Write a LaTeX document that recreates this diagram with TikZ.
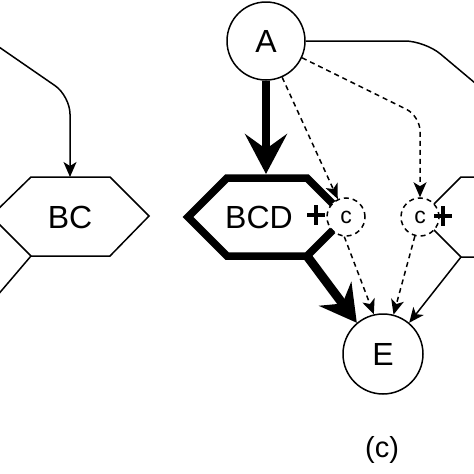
\documentclass[tikz,border=0pt]{standalone}
\usepackage{fontspec}
\setmainfont{Liberation Sans}
\usetikzlibrary{arrows.meta}
\begin{document}
\begin{tikzpicture}[x=1pt,y=-1pt,
  thinline/.style={line width=1.5pt},
  bigcirc/.style={circle, draw, line width=1.5pt, inner sep=0pt, font=\fontsize{32}{32}\selectfont},
  cnode/.style={circle, draw, dash pattern=on 5pt off 4pt, fill=white, line width=1.5pt, minimum size=38pt, inner sep=0pt, font=\fontsize{23}{23}\selectfont},
  lbl/.style={inner sep=0pt, font=\fontsize{32}{32}\selectfont},
  tiphead/.style={-{Stealth[length=15pt,width=13pt,inset=4pt]}},
  dashpat/.style={dash pattern=on 5pt off 4pt},
  plussign/.style={line width=4.5pt},
  thickhex/.style={line width=7.5pt, miter limit=10, line join=miter}
]
\useasboundingbox (0,0) rectangle (474,474);
\clip (0,0) rectangle (474,474);

% left hexagon BC (partial)
\coordinate (BCtop) at (70,177);
\coordinate (BCbl) at (31,256);
\draw[thinline] (-9,216) -- (31,177) -- (110,177) -- (149,216) -- (110,256) -- (BCbl) -- cycle;
\node[lbl] (BC) at (70,217) {BC};
\coordinate (Lstart) at (-30,27);
\coordinate (Lend) at (-15,310);
\draw[thinline, tiphead, rounded corners=18pt] (Lstart) -- (70,96) -- (BCtop);
\draw[thinline] (BCbl) -- (Lend);

% BCD hexagon
\coordinate (BCDtop) at (266,174);
\coordinate (BCDbr) at (307,256);
\draw[thickhex] (188,217) -- (227,178) -- (307,178) -- (346,217) -- (BCDbr) -- (227,256) -- cycle;
\node[lbl] (BCD) at (259,217) {BCD};

% right hexagon (partial)
\coordinate (RHbl) at (461,257);
\draw[thinline] (500,177) -- (461,177) -- (421,217) -- (RHbl) -- (500,257);

% nodes
\node[bigcirc, minimum size=78pt] (A) at (266,41) {A};
\node[bigcirc, minimum size=80pt] (E) at (383,354) {E};
\node[cnode] (C1) at (346,217) {c};
\node[cnode] (C2) at (420,217) {c};
\draw[plussign] (307,215) -- (325,215) (316,205) -- (316,225);
\draw[plussign] (434,216) -- (452,216) (443,206) -- (443,226);

% connectors
\draw[line width=8pt, -{Stealth[length=40pt,width=42pt,inset=15pt]}] (A) -- (BCDtop);
\draw[line width=9pt, -{Stealth[length=36pt,width=40pt,inset=12pt]}] (BCDbr) -- (E.130);
\draw[thinline, dashpat, tiphead] (A.-66) -- (C1);
\draw[thinline, dashpat, tiphead, rounded corners=15pt] (A.-25) -- (420,116) -- (C2);
\coordinate (Rend) at (500,104);
\draw[thinline, rounded corners=20pt] (A.east) -- (425,41) -- (Rend);
\draw[thinline, dashpat, tiphead] (C1.-95) -- (E.103);
\draw[thinline, dashpat, tiphead] (C2.-105) -- (E.75);
\draw[thinline, tiphead] (RHbl) -- (E.50);

\node[inner sep=0pt, font=\fontsize{29}{29}\selectfont] (lab) at (382,450) {(c)};
\end{tikzpicture}
\end{document}
